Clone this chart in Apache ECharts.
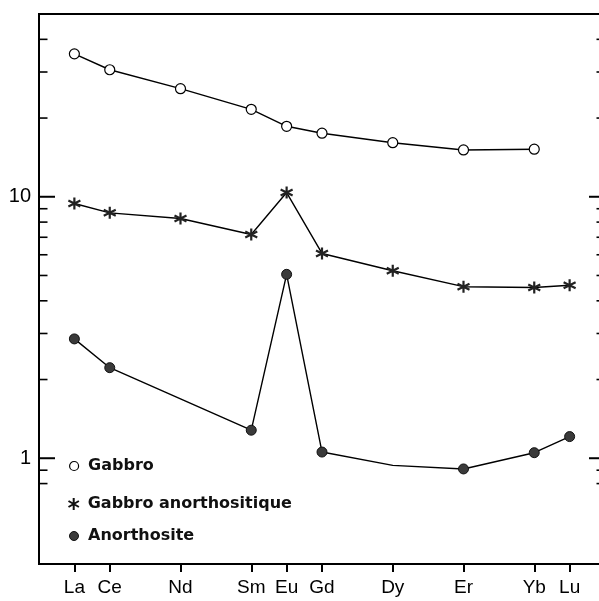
<!DOCTYPE html>
<html><head><meta charset="utf-8">
<script src="https://cdn.jsdelivr.net/npm/echarts@6/dist/echarts.min.js"></script>
<style>html,body{margin:0;padding:0;background:#fff}#c{width:599px;height:601px}</style>
</head><body><div id="c"></div>
<script>
// Categories (REE), with an empty slot at each end
const elements = ['', 'La','Ce','Pr','Nd','Pm','Sm','Eu','Gd','Tb','Dy','Ho','Er','Tm','Yb','Lu',''];
const labeledElements = ['La','Ce','Nd','Sm','Eu','Gd','Dy','Er','Yb','Lu'];
// Series values (chondrite-normalised)
const gabbro       = [null, 35.2, 30.6, null, 25.9, null, 21.6, 18.6, 17.5, null, 16.1, null, 15.1, null, 15.2, null, null];
const gabbroAnorth = [null, 9.42, 8.68, null, 8.26, null, 7.17, 10.38, 6.07, null, 5.21, null, 4.53, null, 4.50, 4.59, null];
const anorthosite  = [null, 2.86, 2.22, null, null, null, 1.28, 5.05, 1.056, null, 0.939, null, 0.91, null, 1.05, 1.21, null];
const anorthositeUnmarked = ['Dy'];
// Y axis ticks
const yMajorTicks = [1, 10];
const yMinorTicks = [0.8, 0.9, 2, 3, 4, 5, 6, 7, 8, 9, 20, 30, 40];
const yMin = 0.394, yMax = 50;
const seriesNames = ['Gabbro', 'Gabbro anorthositique', 'Anorthosite'];

const ASTERISK = 'path://M0,-10L0,10M-8.66,-5L8.66,5M-8.66,5L8.66,-5';
const chart = echarts.init(document.getElementById('c'), null, {renderer: 'canvas'});

const legendText = {fontFamily: 'DejaVu Sans', fontWeight: 'bold', fontSize: 16, color: '#111'};
function legendFor(name, icon, style, top, h, left) {
  return {
    data: [{name: name, icon: icon, itemStyle: style}],
    left: left, top: top, padding: 0, itemWidth: 18, itemHeight: h,
    textStyle: legendText, selectedMode: false
  };
}

const option = {
  animation: false,
  backgroundColor: '#fff',
  grid: {left: 39, top: 14, width: 566, bottom: 37, outerBoundsMode: 'none', containLabel: false,
    show: true, borderColor: '#000', borderWidth: 2, backgroundColor: 'transparent'},
  legend: [
    legendFor(seriesNames[0], 'circle', {color: '#fff', borderColor: '#000', borderWidth: 1.2}, 458, 9, 69),
    legendFor(seriesNames[1], ASTERISK, {color: 'none', borderColor: '#111', borderWidth: 2}, 495.5, 12, 66),
    legendFor(seriesNames[2], 'circle', {color: '#3a3a3a', borderColor: '#111', borderWidth: 1}, 528, 9, 69)
  ],
  xAxis: {
    type: 'category', data: elements, boundaryGap: false,
    axisLine: {show: true, lineStyle: {color: '#000', width: 2}},
    axisTick: {show: true, inside: false, length: 8, lineStyle: {color: '#000', width: 2},
      interval: (i, v) => labeledElements.includes(v)},
    axisLabel: {interval: (i, v) => labeledElements.includes(v), margin: 14,
      fontFamily: 'Liberation Sans', fontSize: 19, color: '#000'},
    splitLine: {show: false}
  },
  yAxis: {
    type: 'log', logBase: 10, min: yMin, max: yMax,
    axisLine: {show: true, lineStyle: {color: '#000', width: 2}},
    axisTick: {show: false},
    axisLabel: {margin: 8, fontFamily: 'Liberation Sans', fontSize: 20, color: '#000',
      formatter: v => yMajorTicks.some(t => Math.abs(t - v) < 1e-6) ? String(Math.round(v)) : ''},
    splitLine: {show: false}, minorTick: {show: false}
  },
  series: [
    {
      type: 'custom', name: 'ticks', silent: true, z: 1, clip: false,
      data: yMajorTicks.concat(yMinorTicks).map(v => [0, v]),
      renderItem: function (params, api) {
        const v = api.value(1);
        const y = api.coord([0, v])[1];
        const cs = params.coordSys;
        const major = yMajorTicks.includes(v);
        const len = major ? 16 : 8.5;
        const lw = major ? 2 : 1.6;
        return {type: 'group', children: [
          {type: 'line', shape: {x1: cs.x, y1: y, x2: cs.x + len, y2: y}, style: {stroke: '#000', lineWidth: lw}},
          {type: 'line', shape: {x1: cs.x + cs.width, y1: y, x2: cs.x + cs.width - len, y2: y}, style: {stroke: '#000', lineWidth: lw}}
        ]};
      }
    },
    {
      type: 'line', name: seriesNames[0], data: gabbro, connectNulls: true,
      symbol: 'circle', symbolSize: 10, showAllSymbol: true,
      lineStyle: {color: '#000', width: 1.4},
      itemStyle: {color: '#fff', borderColor: '#000', borderWidth: 1.2}, z: 3
    },
    {
      type: 'line', name: seriesNames[1], data: gabbroAnorth, connectNulls: true,
      symbol: ASTERISK, symbolSize: 12, showAllSymbol: true,
      lineStyle: {color: '#000', width: 1.4},
      itemStyle: {color: 'none', borderColor: '#222', borderWidth: 2.2}, z: 3
    },
    {
      type: 'line', name: seriesNames[2], connectNulls: true,
      data: anorthosite.map((v, i) => anorthositeUnmarked.includes(elements[i]) ? {value: v, symbol: 'none'} : v),
      symbol: 'circle', symbolSize: 10, showAllSymbol: true,
      lineStyle: {color: '#000', width: 1.4},
      itemStyle: {color: '#3a3a3a', borderColor: '#111', borderWidth: 1}, z: 3
    }
  ]
};
chart.setOption(option);
</script>
</body></html>
